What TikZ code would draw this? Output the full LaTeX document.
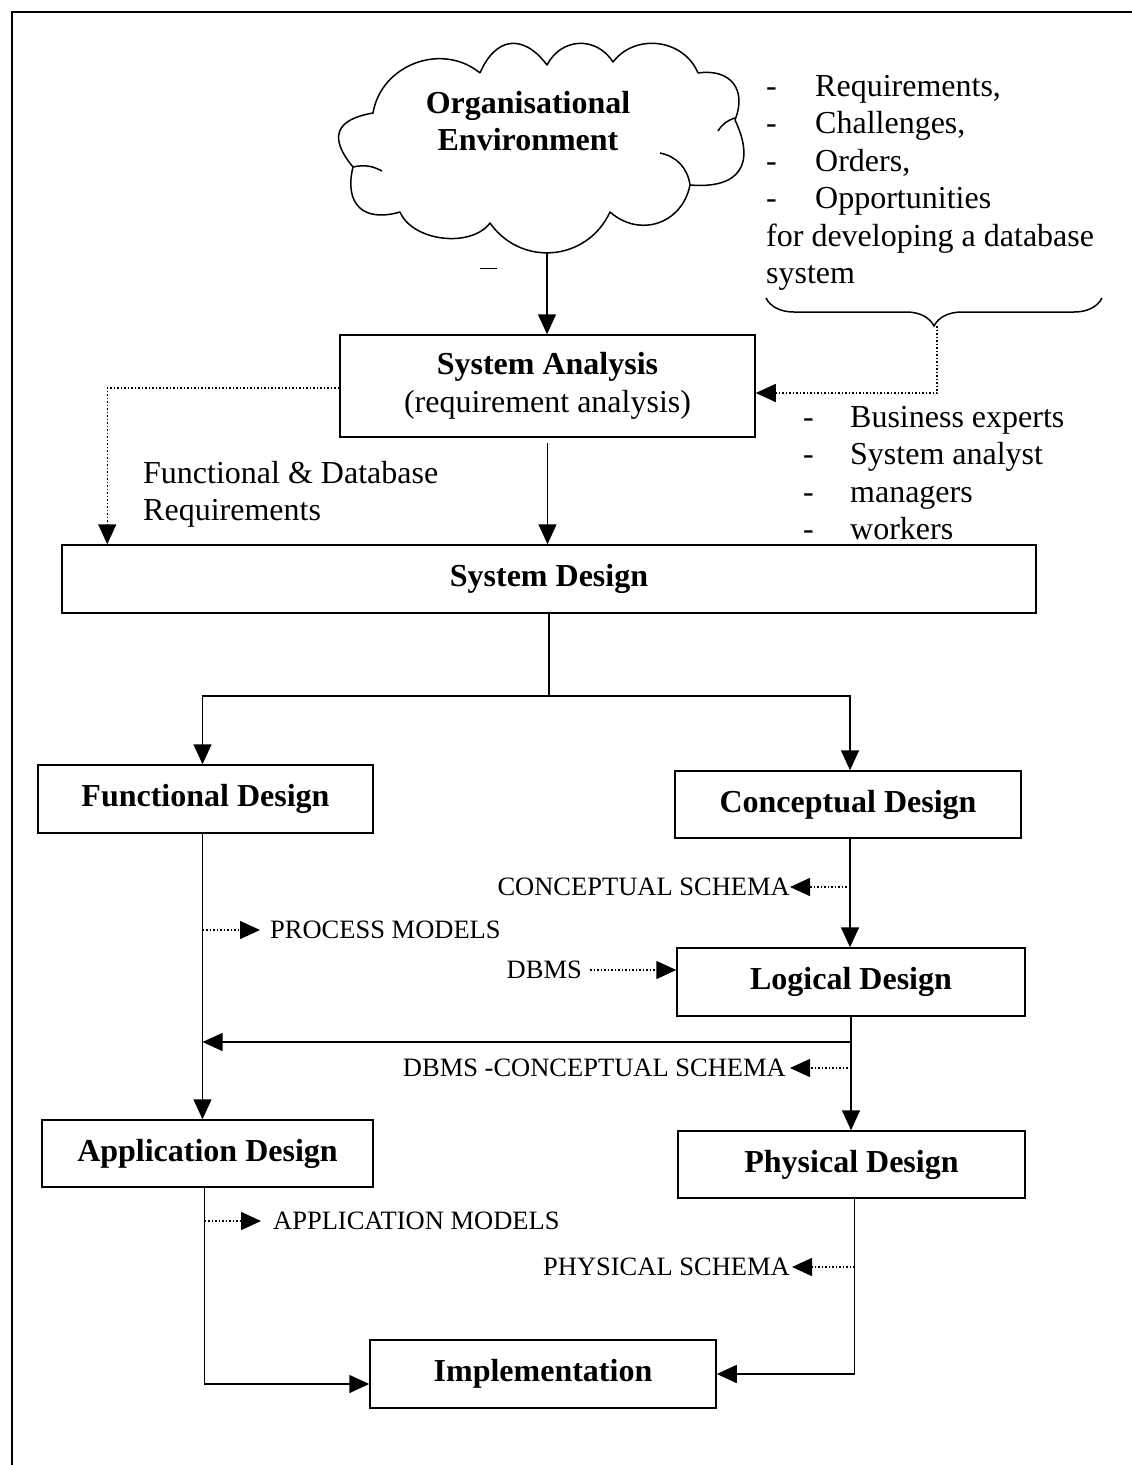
\documentclass[tikz,border=0pt]{standalone}
\usepackage{fontspec}
\setmainfont{Liberation Serif}
\usetikzlibrary{arrows.meta,decorations.pathreplacing}

\tikzset{
  stage/.style={draw, line width=1.5pt, align=center, inner sep=0pt,
    font=\bfseries\fontsize{32}{37.5}\selectfont},
  note/.style={align=left, inner sep=0pt, font=\fontsize{32}{37.5}\selectfont},
  schema/.style={inner sep=0pt, font=\fontsize{26.5}{30}\selectfont},
  flow/.style={->, line width=1.5pt},
  hint/.style={->, dotted, line width=1.5pt},
  puff/.style={bend left=60, looseness=#1},
}

\begin{document}
\begin{tikzpicture}[x=1pt, y=-1pt, >={Triangle[length=20pt,width=18pt]}]
 \useasboundingbox (0,0) rectangle (1132,1465);
 \draw[line width=1.2pt] (12,1465) -- (12,12) -- (1132,12);

 % environment and what it brings
 \draw[line width=1.5pt, line join=round]
   (480,73) to[puff=1.5] (547,65) to[puff=1.2] (613,62) to[puff=1.1] (698,73)
   to[puff=1.4] (735,120) to[puff=1.6] (690,185) to[puff=1.2] (610,212)
   to[puff=1.15] (490,223) to[puff=0.9] (400,212) to[puff=1.5] (353,167)
   to[puff=1.7] (373,113) to[puff=1.1] (480,73);
 \draw[line width=1.5pt] (660,153) to[bend left=35] (690,185);
 \draw[line width=1.5pt] (353,167) to[bend left=20] (382,171);
 \draw[line width=1.5pt] (735,118) to[bend right=20] (718,131);
 \coordinate (envfoot) at (547,252);
 \node[align=center, font=\bfseries\fontsize{32}{37.5}\selectfont] (envtext) at (528,121)
   {Organisational\\Environment};
 \draw[line width=1pt] (480,268) -- (497,268);
 \node[note, anchor=north west] (needs) at (766,75)
   {\makebox[49pt][l]{-}Requirements,\\
    \makebox[49pt][l]{-}Challenges,\\
    \makebox[49pt][l]{-}Orders,\\
    \makebox[49pt][l]{-}Opportunities\\
    for developing a database\\
    system};
 \draw[line width=1.5pt, decorate, decoration={brace, mirror, amplitude=28pt}]
   (766,298) -- (1102,298);
 \coordinate (tip) at (937,326);

 % analysis and design
 \node[stage, minimum width=415pt, minimum height=102pt] (analysis) at (547.5,386)
   {System Analysis\\{\mdseries (requirement analysis)}};
 \node[note, anchor=north west] (staff) at (803,406)
   {\makebox[47pt][l]{-}Business experts\\
    \makebox[47pt][l]{-}System analyst\\
    \makebox[47pt][l]{-}managers\\
    \makebox[47pt][l]{-}workers};
 \node[note, anchor=north west] (fdreq) at (143,461)
   {Functional \& Database\\Requirements};
 \node[stage, minimum width=974pt, minimum height=68pt] (design) at (549,579) {System Design};

 \draw[flow] (envfoot) -- (envfoot |- analysis.north);
 \draw[hint] (tip) |- ([yshift=-7pt]analysis.east);
 \draw[hint] ([yshift=-2pt]analysis.west) -| ([xshift=46pt]design.north west);
 \draw[flow] ([yshift=-5pt]analysis.south) -- (analysis.south |- design.north);

 % the two branches
 \node[stage, minimum width=335pt, minimum height=68pt] (func) at (205.5,799) {Functional Design};
 \node[stage, minimum width=346pt, minimum height=67pt] (conc) at (848,804.5) {Conceptual Design};
 \node[stage, minimum width=348pt, minimum height=68pt] (logic) at (851,982) {Logical Design};
 \node[stage, minimum width=331pt, minimum height=67pt] (app) at (207.5,1153.5) {Application Design};
 \node[stage, minimum width=347pt, minimum height=67pt] (phys) at (851.5,1164.5) {Physical Design};
 \node[stage, minimum width=346pt, minimum height=68pt] (impl) at (543,1374) {Implementation};

 \coordinate (split) at (549,696);
 \draw[line width=1.5pt] (design.south) -- (split);
 \draw[flow] (split) -| ([xshift=-3pt]func.north);
 \draw[flow] (split) -| ([xshift=2pt]conc.north);
 \draw[flow] ([xshift=-3pt]func.south) -- ([xshift=-3pt]func.south |- app.north);
 \draw[flow] ([xshift=2pt]conc.south) -- ([xshift=2pt]conc.south |- logic.north);
 \draw[flow] (logic.south) -- (logic.south |- phys.north);
 \coordinate (back) at (851,1042);
 \coordinate (join) at (202.5,1042);
 \draw[flow] (back) -- (join);
 \draw[flow] ([xshift=-3pt]app.south) |- ([yshift=-10pt]impl.west);
 \draw[flow] ([xshift=3pt]phys.south) |- (impl.east);

 % schemas and models
 \node[schema, anchor=east] (cschema) at (790,887) {CONCEPTUAL SCHEMA};
 \coordinate (c1) at (850,887);
 \draw[hint] (c1) -- (cschema.east);
 \node[schema, anchor=west] (pmodels) at (270,930) {PROCESS MODELS};
 \coordinate (p1) at (202.5,930);
 \draw[hint] (p1) -- ([xshift=-10pt]pmodels.west);
 \node[schema, anchor=east] (dbms) at (582,970) {DBMS};
 \draw[hint] ([xshift=8pt]dbms.east) -- (dbms.east -| logic.west);
 \node[schema, anchor=east] (dcschema) at (786,1068) {DBMS -CONCEPTUAL SCHEMA};
 \coordinate (d1) at (851,1068);
 \draw[hint] (d1) -- ([xshift=4pt]dcschema.east);
 \node[schema, anchor=west] (amodels) at (273,1221) {APPLICATION MODELS};
 \coordinate (a1) at (204.5,1221);
 \draw[hint] (a1) -- ([xshift=-12pt]amodels.west);
 \node[schema, anchor=east] (pschema) at (790,1267) {PHYSICAL SCHEMA};
 \coordinate (s1) at (854.5,1267);
 \draw[hint] (s1) -- ([xshift=2pt]pschema.east);
\end{tikzpicture}
\end{document}
